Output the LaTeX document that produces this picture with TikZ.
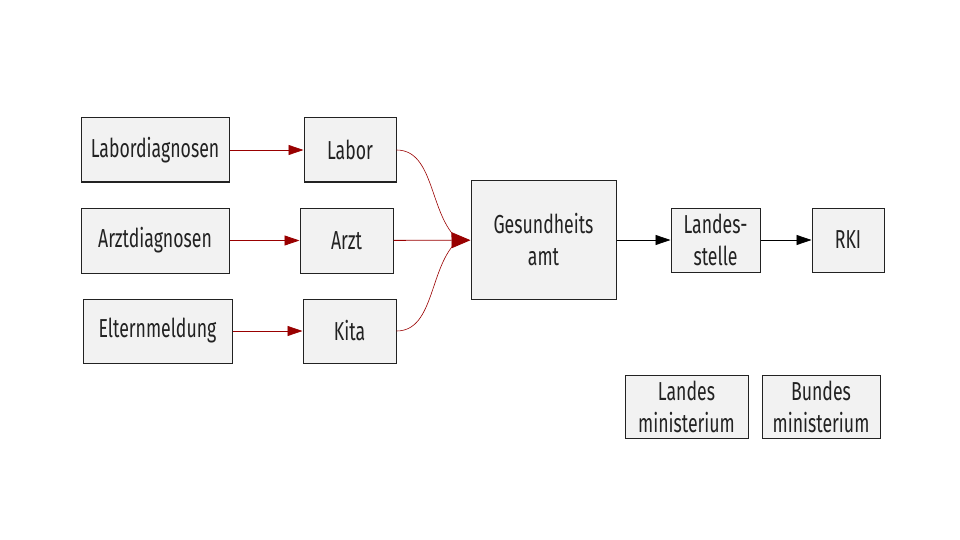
\documentclass[tikz,border=0pt]{standalone}
\usepackage{fontspec}
\setmainfont[FakeStretch=0.68]{Fira Sans}
\usetikzlibrary{arrows.meta}
\definecolor{boxfill}{HTML}{F2F2F2}
\definecolor{boxline}{HTML}{222222}
\definecolor{darkred}{HTML}{990000}
\begin{document}
\begin{tikzpicture}[x=1pt,y=-1pt,
	box/.style={draw=boxline,fill=boxfill,line width=1pt,align=center,inner sep=0pt,
		font=\fontsize{26}{32}\selectfont,text=boxline},
	redarrow/.style={darkred,line width=0.8pt,-{Triangle[length=15pt,width=10pt]}},
	bigredarrow/.style={darkred,line width=0.8pt,-{Triangle[length=19pt,width=16pt]}},
	redcurve/.style={darkred,line width=0.6pt},
	blackarrow/.style={black,line width=0.8pt,-{Triangle[length=15pt,width=10pt]}}]
	\useasboundingbox (0,0) rectangle (960,540);
	% left column
	\node[box,minimum width=148pt,minimum height=64pt] (labordiag) at (155,150) {Labordiagnosen};
	\node[box,minimum width=148pt,minimum height=65pt] (arztdiag) at (155,240.5) {Arztdiagnosen};
	\node[box,minimum width=149pt,minimum height=64pt] (eltern) at (157.5,331) {Elternmeldung};
	% middle column
	\node[box,minimum width=92pt,minimum height=64pt] (labor) at (350,150) {Labor};
	\node[box,minimum width=93pt,minimum height=65pt] (arzt) at (346.5,240.5) {Arzt};
	\node[box,minimum width=93pt,minimum height=64pt] (kita) at (349.5,331) {Kita};
	% reporting chain
	\node[box,minimum width=145pt,minimum height=118pt] (ga) at (543.5,240) {Gesundheits\\amt};
	\node[box,minimum width=89pt,minimum height=64pt] (lstelle) at (715.5,240) {Landes-\\stelle};
	\node[box,minimum width=72pt,minimum height=64pt] (rki) at (848,240) {RKI};
	% ministries
	\node[box,minimum width=123pt,minimum height=63pt] (lmin) at (686.5,406.5) {Landes\\ministerium};
	\node[box,minimum width=118pt,minimum height=63pt] (bmin) at (821,406.5) {Bundes\\ministerium};
	% arrows
	\draw[redarrow] (labordiag) -- (labor);
	\draw[redarrow] (arztdiag) -- (arzt);
	\draw[redarrow] (eltern) -- (kita);
	\draw[redcurve] (labor.east) to[out=0,in=140,looseness=0.9] ([xshift=-12pt]ga.west);
	\draw[redcurve] (kita.east) to[out=0,in=220,looseness=0.9] ([xshift=-12pt]ga.west);
	\draw[bigredarrow] (arzt) -- (ga);
	\draw[blackarrow] (ga) -- (lstelle);
	\draw[blackarrow] (lstelle) -- (rki);
\end{tikzpicture}
\end{document}
